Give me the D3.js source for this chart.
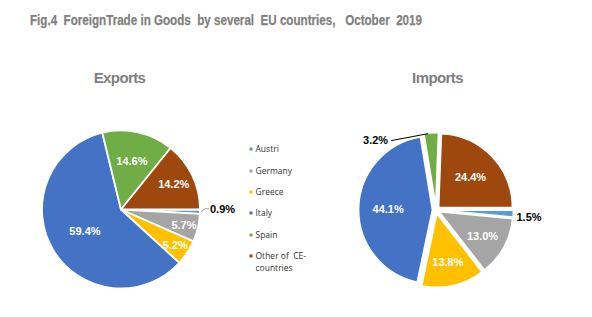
<!DOCTYPE html>
<html><head><meta charset="utf-8">
<script src="https://cdn.jsdelivr.net/npm/d3@7"></script>
<style>body{margin:0;background:#fff}svg{display:block}</style>
</head><body>
<svg id="c" width="592" height="317"></svg>
<script>
const categories = ["Austri", "Germany", "Greece", "Italy", "Spain", "Other of  CE-countries"];
const legendLines = [["Austri"], ["Germany"], ["Greece"], ["Italy"], ["Spain"], ["Other of  CE-", "countries"]];
const exportsValues = [0.9, 5.7, 5.2, 59.4, 14.6, 14.2];
const importsValues = [1.5, 13.0, 13.8, 44.1, 3.2, 24.4];
const colors = ["#5B9BD5", "#A5A5A5", "#FFC000", "#4472C4", "#70AD47", "#9E480E"];
const titleText = "Fig.4  ForeignTrade in Goods  by several  EU countries,   October  2019";

const svg = d3.select("#c");
svg.append("text").attr("x", 30).attr("y", 25)
  .attr("xml:space", "preserve").style("white-space", "pre")
  .attr("font-family", "'Liberation Sans Narrow','Liberation Sans',Arial,sans-serif")
  .attr("font-weight", "bold").attr("font-size", 15.5).attr("fill", "#808080")
  .attr("stroke", "#808080").attr("stroke-width", 0.25)
  .attr("textLength", 392).attr("lengthAdjust", "spacingAndGlyphs")
  .text(titleText);

const color = d3.scaleOrdinal().domain(categories).range(colors);

function drawPie(values, cx, cy, r, explode, title, titleX, labelK, outside) {
  const g = svg.append("g").attr("transform", `translate(${cx},${cy})`);
  svg.append("text").attr("x", titleX).attr("y", 83).attr("text-anchor", "middle")
    .attr("font-family", "'Liberation Sans',Arial,sans-serif").attr("font-weight", "bold")
    .attr("font-size", 15).attr("letter-spacing", -0.6).attr("fill", "#7f7f7f").text(title);
  const pieGen = d3.pie().sort(null).value(d => d).startAngle(Math.PI / 2).endAngle(Math.PI / 2 + 2 * Math.PI);
  const data = pieGen(values);
  const arc = d3.arc().innerRadius(0).outerRadius(r);
  const total = d3.sum(values);
  data.forEach((d, i) => {
    const mid = (d.startAngle + d.endAngle) / 2;
    const ox = explode * Math.sin(mid), oy = -explode * Math.cos(mid);
    g.append("path").attr("d", arc(d)).attr("transform", `translate(${ox},${oy})`)
      .attr("fill", color(categories[i])).attr("stroke", "#fff").attr("stroke-width", 1.8)
      .attr("stroke-linejoin", "round");
    const f = d.value / total;
    const lbl = d3.format(".1f")(d.value) + "%";
    if (f >= 0.05) {
      const k = labelK(f, mid);
      const lx = (r * k + explode) * Math.sin(mid), ly = -(r * k + explode) * Math.cos(mid);
      g.append("text").attr("x", lx).attr("y", ly + 4).attr("text-anchor", "middle")
        .attr("font-family", "'Liberation Sans',Arial,sans-serif").attr("font-weight", "bold")
        .attr("font-size", 11).attr("fill", "#fff").text(lbl);
    } else {
      outside(g, d, mid, lbl, r, explode);
    }
  });
}

function outsideText(g, x, y, lbl, anchor) {
  g.append("text").attr("x", x).attr("y", y).attr("text-anchor", anchor || "start")
    .attr("font-family", "'Liberation Sans',Arial,sans-serif").attr("font-weight", "bold")
    .attr("font-size", 11).attr("fill", "#000").text(lbl);
}

// Exports
drawPie(exportsValues, 121, 209.5, 79, 0, "Exports", 119.5,
  (f, mid) => f > 0.3 ? 0.53 : f > 0.1 ? (Math.sin(mid) > 0.6 ? 0.74 : 0.63) : 0.82,
  (g, d, mid, lbl, r) => {
    const ex = (r + 1) * Math.sin(mid), ey = -(r + 1) * Math.cos(mid);
    g.append("path").attr("d", `M${ex},${ey}L${r + 5},${ey - 3}L${r + 9},${ey - 3}`)
      .attr("fill", "none").attr("stroke", "#a0a0a0").attr("stroke-width", 1);
    outsideText(g, r + 10, ey + 1.5, lbl);
  });

// Imports
drawPie(importsValues, 436, 210, 74, 3.5, "Imports", 437.5,
  (f) => f > 0.2 ? 0.6 : 0.67,
  (g, d, mid, lbl, r, e) => {
    if (Math.sin(mid) > 0.5) {
      outsideText(g, r + e + 3, 11, lbl);
    } else {
      const ex = (r + e) * Math.sin(mid) - 3, ey = -(r + e) * Math.cos(mid) + 1;
      g.append("line").attr("x1", ex).attr("y1", ey).attr("x2", ex - 37).attr("y2", ey + 7)
        .attr("stroke", "#000").attr("stroke-width", 1);
      outsideText(g, ex - 40, ey + 10, lbl, "end");
    }
  });

// Legend
const legendY = [149, 171, 192, 213, 235, 256];
const leg = svg.append("g");
legendLines.forEach((lines, i) => {
  leg.append("rect").attr("x", 249.5).attr("y", legendY[i] - 1.5).attr("width", 3).attr("height", 3)
    .attr("fill", colors[i]);
  lines.forEach((t, j) => {
    leg.append("text").attr("x", 255.5).attr("y", legendY[i] + 3 + j * 12)
      .attr("xml:space", "preserve").style("white-space", "pre")
      .attr("font-family", "'Open Sans','Liberation Sans',sans-serif").attr("font-size", 8.5)
      .attr("fill", "#333").text(t);
  });
});
</script>
</body></html>
